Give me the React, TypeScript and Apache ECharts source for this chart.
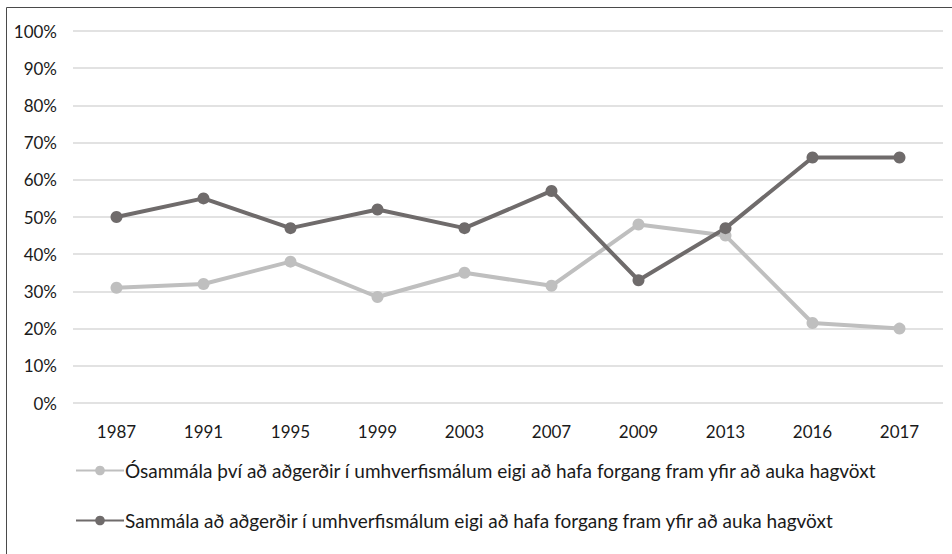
import React, { useEffect, useRef } from "react";
import * as echarts from "echarts";

const categories = ["1987", "1991", "1995", "1999", "2003", "2007", "2009", "2013", "2016", "2017"];
const disagreeName = "Ósammála því að aðgerðir í umhverfismálum eigi að hafa forgang fram yfir að auka hagvöxt";
const agreeName = "Sammála að aðgerðir í umhverfismálum eigi að hafa forgang fram yfir að auka hagvöxt";
const disagreeValues = [31, 32, 38, 28.5, 35, 31.5, 48, 45, 21.5, 20];
const agreeValues = [50, 55, 47, 52, 47, 57, 33, 47, 66, 66];
const yTicks = [0, 10, 20, 30, 40, 50, 60, 70, 80, 90, 100];

const FONT = "Lato, 'Open Sans', sans-serif";

export default function App() {
  const ref = useRef<HTMLDivElement>(null);
  useEffect(() => {
    document.body.style.margin = "0";
    const chart = echarts.init(ref.current!, undefined, { renderer: "svg" });
    chart.setOption({
      animation: false,
      backgroundColor: "#ffffff",
      textStyle: { fontFamily: FONT },
      graphic: [
        {
          type: "rect",
          shape: { x: 6.5, y: 7.5, width: 1000, height: 700 },
          style: { fill: "none", stroke: "#4a4a4a", lineWidth: 1 },
          silent: true,
        },
      ],
      grid: { left: 73, right: 9, top: 31, height: 372 },
      xAxis: {
        type: "category",
        data: categories,
        boundaryGap: true,
        axisLine: { show: false },
        axisTick: { show: false },
        axisLabel: { color: "#1a1a1a", fontSize: 17, fontFamily: FONT, margin: 20 },
      },
      yAxis: {
        type: "value",
        min: 0,
        max: 100,
        interval: 10,
        axisLine: { show: false },
        axisTick: { show: false },
        splitLine: { lineStyle: { color: "#d9d9d9", width: 1.5 } },
        axisLabel: {
          color: "#1a1a1a",
          fontSize: 17,
          fontFamily: FONT,
          margin: 16,
          formatter: (v: number) => (yTicks.includes(v) ? v + "%" : ""),
        },
      },
      legend: {
        orient: "vertical",
        left: 75,
        top: 461,
        padding: 0,
        itemWidth: 48,
        itemHeight: 12,
        itemGap: 31,
        textStyle: { color: "#1a1a1a", fontSize: 19, fontFamily: FONT, padding: [0, 0, 0, -4] },
        data: [disagreeName, agreeName],
      },
      series: [
        {
          name: disagreeName,
          type: "line",
          data: disagreeValues,
          symbol: "circle",
          symbolSize: 12,
          lineStyle: { color: "#bfbfbf", width: 4 },
          itemStyle: { color: "#bfbfbf" },
        },
        {
          name: agreeName,
          type: "line",
          data: agreeValues,
          symbol: "circle",
          symbolSize: 12,
          lineStyle: { color: "#6f6b6b", width: 4 },
          itemStyle: { color: "#6f6b6b" },
        },
      ],
    });
    return () => chart.dispose();
  }, []);
  return <div ref={ref} style={{ width: 952, height: 554, position: "absolute", left: 0, top: 0 }} />;
}
